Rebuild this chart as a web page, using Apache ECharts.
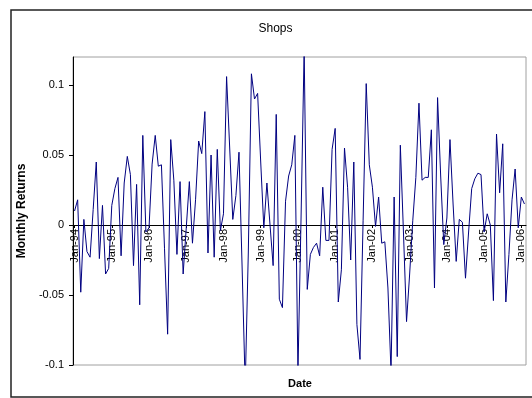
<!DOCTYPE html>
<html>
<head>
<meta charset="utf-8">
<script src="https://cdn.jsdelivr.net/npm/echarts@6/dist/echarts.min.js"></script>
<style>
html,body{margin:0;padding:0;background:#fff;}
#chart{width:532px;height:398px;}
</style>
</head>
<body>
<div id="chart"></div>
<script>
var monthNames = ['Jan','Feb','Mar','Apr','May','Jun','Jul','Aug','Sep','Oct','Nov','Dec'];
var yearLabels = ['94','95','96','97','98','99','00','01','02','03','04','05','06'];
var monthCount = 146;
var categories = [];
for (var k = 0; k < monthCount; k++) {
  categories.push(monthNames[k % 12] + '-' + yearLabels[Math.floor(k / 12)]);
}
var returns = [
  0.010, 0.018, -0.048, 0.004, -0.019, -0.023, 0.011, 0.045, -0.024, 0.014, -0.035, -0.031,
  0.014, 0.026, 0.034, -0.022, 0.030, 0.049, 0.036, -0.029, 0.029, -0.057, 0.064, -0.005,
  -0.002, 0.0435, 0.064, 0.042, 0.043, -0.017, -0.078, 0.061, 0.032, -0.021, 0.031, -0.035,
  -0.002, 0.031, -0.013, 0.018, 0.060, 0.051, 0.081, -0.020, 0.050, -0.023, 0.054, -0.004,
  0.008, 0.106, 0.055, 0.004, 0.021, 0.052, -0.030, -0.115, -0.020, 0.108, 0.090, 0.094,
  0.045, -0.002, 0.030, 0.000, -0.029, 0.079, -0.053, -0.059, 0.017, 0.035, 0.043, 0.064,
  -0.105, 0.005, 0.125, -0.046, -0.021, -0.016, -0.013, -0.022, 0.027, -0.011, -0.011, 0.054,
  0.069, -0.055, -0.032, 0.055, 0.027, -0.025, 0.045, -0.071, -0.096, 0.003, 0.101, 0.043,
  0.027, -0.001, 0.020, -0.013, -0.012, -0.045, -0.105, 0.020, -0.094, 0.057, -0.005, -0.069,
  -0.035, 0.003, 0.034, 0.087, 0.032, 0.034, 0.034, 0.068, -0.045, 0.091, 0.035, -0.014,
  0.005, 0.061, 0.015, -0.026, 0.004, 0.002, -0.038, -0.005, 0.026, 0.033, 0.037, 0.036,
  -0.005, 0.008, 0.000, -0.054, 0.065, 0.023, 0.058, -0.055, -0.021, 0.018, 0.040, -0.002,
  0.020, 0.015
];
var yTicks = [-0.1, -0.05, 0, 0.05, 0.1];
var yMin = -0.1;
var yMax = 0.12;
var titleText = 'Shops';
var xName = 'Date';
var yName = 'Monthly Returns';

var font = "'Liberation Sans', Arial, sans-serif";
var gridTop = 57, gridBottom = 33, chartH = 398;
var plotH = chartH - gridTop - gridBottom;
// move the category axis up to the zero line
var zeroOffset = -plotH * (0 - yMin) / (yMax - yMin);

var chart = echarts.init(document.getElementById('chart'), null, {renderer: 'canvas'});
chart.setOption({
  animation: false,
  backgroundColor: '#fff',
  graphic: [
    {type: 'rect', shape: {x: 11, y: 10, width: 540, height: 387}, style: {fill: 'none', stroke: '#222', lineWidth: 1.5}, silent: true, z: -1},
    {type: 'text', x: 275.5, y: 29, style: {text: titleText, fontFamily: font, fontSize: 12, fill: '#000', textAlign: 'center', textVerticalAlign: 'middle'}},
    {type: 'text', x: 300, y: 384, style: {text: xName, fontFamily: font, fontSize: 11, fontWeight: 'bold', fill: '#000', textAlign: 'center', textVerticalAlign: 'middle'}}
  ],
  grid: {left: 73, top: gridTop, right: 6, bottom: gridBottom, show: true, borderColor: '#a0a0a0', borderWidth: 1, backgroundColor: 'transparent'},
  xAxis: {
    type: 'category',
    data: categories,
    boundaryGap: true,
    position: 'bottom',
    offset: zeroOffset,
    axisLine: {onZero: false, lineStyle: {color: '#000', width: 1}},
    axisTick: {show: true, interval: 11, alignWithLabel: true, length: 3, lineStyle: {color: '#000'}},
    axisLabel: {interval: 11, rotate: 90, margin: 4, fontFamily: font, fontSize: 11, color: '#000'},
    splitLine: {show: false}
  },
  yAxis: {
    type: 'value',
    min: yMin,
    max: yMax,
    interval: 0.05,
    name: yName,
    nameLocation: 'middle',
    nameRotate: 90,
    nameGap: 39,
    nameTextStyle: {fontFamily: font, fontSize: 12, fontWeight: 'bold', color: '#000'},
    axisLine: {show: true, lineStyle: {color: '#000', width: 1}},
    axisTick: {show: true, length: 4, customValues: yTicks, lineStyle: {color: '#000'}},
    axisLabel: {margin: 9, customValues: yTicks, fontFamily: font, fontSize: 11, color: '#000'},
    splitLine: {show: false}
  },
  series: [{
    type: 'line',
    data: returns,
    showSymbol: false,
    symbol: 'none',
    clip: true,
    lineStyle: {color: '#000080', width: 1}
  }]
});
</script>
</body>
</html>
